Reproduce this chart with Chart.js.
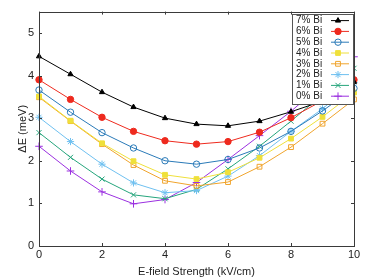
<!DOCTYPE html>
<html>
<head>
<meta charset="utf-8">
<script src="https://cdn.jsdelivr.net/npm/chart.js@4/dist/chart.umd.min.js"></script>
<style>
  html, body { margin: 0; padding: 0; background: #fff; }
  #wrap { width: 374px; height: 280px; }
</style>
</head>
<body>
<div id="wrap"><canvas id="deChart" width="374" height="280"></canvas></div>
<script>
// field strength (kV/cm) and energy splitting (meV) per Bi content
const strength = [0, 1, 2, 3, 4, 5, 6, 7, 8, 9, 10];
const bi7 = [4.45, 4.03, 3.61, 3.26, 3.00, 2.86, 2.82, 2.93, 3.15, 3.40, 3.85];
const bi6 = [3.90, 3.44, 3.02, 2.69, 2.47, 2.39, 2.45, 2.67, 3.01, 3.41, 3.90];
const bi5 = [3.66, 3.14, 2.66, 2.30, 2.00, 1.92, 2.03, 2.30, 2.69, 3.17, 3.70];
const bi4 = [3.51, 2.94, 2.41, 1.99, 1.67, 1.57, 1.73, 2.07, 2.52, 3.03, 3.60];
const bi3 = [3.49, 2.93, 2.39, 1.90, 1.53, 1.41, 1.50, 1.86, 2.32, 2.87, 3.44];
const bi2 = [3.02, 2.45, 1.92, 1.48, 1.25, 1.30, 1.64, 2.12, 2.69, 3.22, 3.84];
const bi1 = [2.66, 2.08, 1.57, 1.20, 1.11, 1.33, 1.81, 2.34, 2.93, 3.55, 4.17];
const bi0 = [2.34, 1.76, 1.27, 0.99, 1.09, 1.49, 2.03, 2.59, 3.16, 3.80, 4.44];
const seriesNames = ['7% Bi', '6% Bi', '5% Bi', '4% Bi', '3% Bi', '2% Bi', '1% Bi', '0% Bi'];
const xTicks = [0, 2, 4, 6, 8, 10];
const yTicks = [0, 1, 2, 3, 4, 5];

const FONT = '"Liberation Sans", Arial, Helvetica, sans-serif';
const AXIS = '#3a3a3a';

function series(label, values, color, style, fill, radius) {
  return {
    label: label,
    data: values.map((v, i) => ({x: strength[i], y: v})),
    borderColor: color,
    backgroundColor: color,
    borderWidth: 1,
    pointStyle: style,
    pointRadius: radius,
    pointBorderColor: color,
    pointBackgroundColor: fill ? color : 'rgba(0,0,0,0)',
    pointBorderWidth: 1,
    clip: false,
    tension: 0
  };
}

const datasets = [
  series(seriesNames[0], bi7, '#000000', 'triangle', true, 3),
  series(seriesNames[1], bi6, '#ee2a1e', 'circle', true, 3.2),
  series(seriesNames[2], bi5, '#2a7ab8', 'circle', false, 3.2),
  series(seriesNames[3], bi4, '#efe03a', 'rect', true, 3.4),
  series(seriesNames[4], bi3, '#f0a42c', 'rect', false, 3.4),
  series(seriesNames[5], bi2, '#6fc0f0', 'star', false, 3.6),
  series(seriesNames[6], bi1, '#25a57c', 'crossRot', false, 3.6),
  series(seriesNames[7], bi0, '#9b30e0', 'cross', false, 3.8)
];

// box + inward ticks (MATLAB style)
const boxTicks = {
  id: 'boxTicks',
  afterDatasetsDraw(chart) {
    const {ctx, chartArea: a, scales: {x, y}} = chart;
    ctx.save();
    ctx.strokeStyle = AXIS;
    ctx.lineWidth = 1;
    ctx.beginPath();
    xTicks.forEach(t => {
      const px = Math.round(x.getPixelForValue(t)) + 0.5;
      ctx.moveTo(px, a.bottom); ctx.lineTo(px, a.bottom - 3);
      ctx.moveTo(px, a.top); ctx.lineTo(px, a.top + 3);
    });
    yTicks.forEach(t => {
      const py = Math.round(y.getPixelForValue(t)) + 0.5;
      ctx.moveTo(a.left, py); ctx.lineTo(a.left + 3, py);
      ctx.moveTo(a.right, py); ctx.lineTo(a.right - 3, py);
    });
    ctx.stroke();
    ctx.strokeRect(Math.round(a.left) + 0.5, Math.round(a.top) + 0.5,
                   Math.round(a.right - a.left), Math.round(a.bottom - a.top));
    ctx.restore();
  }
};

// legend inside the axes, text left and sample right
const boxLegend = {
  id: 'boxLegend',
  afterDraw(chart) {
    const {ctx, chartArea: a} = chart;
    const bw = 62, rowH = 10.8;
    const bx = a.right - bw, by = a.top + 2;
    const bh = rowH * datasets.length + 4;
    ctx.save();
    ctx.fillStyle = '#fff';
    ctx.fillRect(bx, by, bw, bh);
    ctx.strokeStyle = '#555';
    ctx.lineWidth = 1;
    ctx.strokeRect(Math.round(bx) + 0.5, Math.round(by) + 0.5, bw - 1, Math.round(bh));
    ctx.font = '10px ' + FONT;
    ctx.textBaseline = 'middle';
    chart.data.datasets.forEach((ds, i) => {
      const cy = by + 7 + i * rowH;
      ctx.fillStyle = '#222';
      ctx.textAlign = 'left';
      ctx.fillText(ds.label, bx + 4, cy);
      ctx.strokeStyle = ds.borderColor;
      ctx.lineWidth = 1;
      ctx.beginPath();
      ctx.moveTo(bx + 39, cy); ctx.lineTo(bx + 57, cy);
      ctx.stroke();
      ctx.fillStyle = ds.pointBackgroundColor;
      ctx.strokeStyle = ds.pointBorderColor;
      Chart.helpers.drawPoint(ctx, {
        pointStyle: ds.pointStyle, radius: ds.pointRadius, rotation: 0, borderWidth: 1
      }, bx + 46, cy);
    });
    ctx.restore();
  }
};

const chart = new Chart(document.getElementById('deChart'), {
  type: 'line',
  data: { datasets: datasets },
  plugins: [boxTicks, boxLegend],
  options: {
    responsive: false,
    animation: false,
    layout: { padding: { top: 8, right: 20, left: 0, bottom: 0 } },
    plugins: { legend: { display: false }, tooltip: { enabled: false } },
    scales: {
      x: {
        type: 'linear',
        min: 0, max: 10,
        afterBuildTicks: s => { s.ticks = xTicks.map(v => ({value: v})); },
        afterFit: s => { s.height = 34; },
        grid: { display: false, drawTicks: false },
        border: { display: false },
        ticks: { color: '#222', font: { family: FONT, size: 11 }, padding: 2 },
        title: { display: true, text: 'E-field Strength (kV/cm)', color: '#222',
                 font: { family: FONT, size: 11 }, padding: { top: 0, bottom: 1 } }
      },
      y: {
        type: 'linear',
        min: 0, max: 5.5,
        afterBuildTicks: s => { s.ticks = yTicks.map(v => ({value: v})); },
        afterFit: s => { s.width = 39; },
        grid: { display: false, drawTicks: false },
        border: { display: false },
        ticks: { color: '#222', font: { family: FONT, size: 11 }, padding: 5 },
        title: { display: true, text: 'ΔE (meV)', color: '#222',
                 font: { family: FONT, size: 11 }, padding: { top: 16, bottom: 0 } }
      }
    }
  }
});
</script>
</body>
</html>
